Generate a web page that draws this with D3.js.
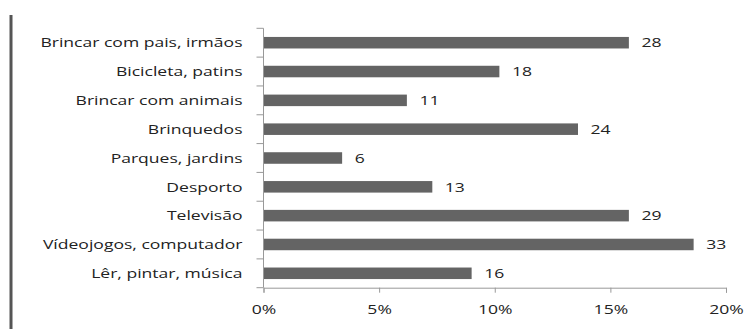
<!DOCTYPE html>
<html>
<head>
<meta charset="utf-8">
<script src="https://cdn.jsdelivr.net/npm/d3@7"></script>
<style>
  html, body { margin: 0; padding: 0; background: #fff; }
  svg { display: block; }
  text { font-family: "Open Sans", "DejaVu Sans", sans-serif; fill: #222; }
</style>
</head>
<body>
<svg id="chart" width="753" height="329"></svg>
<script>
// Activities (top to bottom)
const categories = [
  "Brincar com pais, irmãos",
  "Bicicleta, patins",
  "Brincar com animais",
  "Brinquedos",
  "Parques, jardins",
  "Desporto",
  "Televisão",
  "Vídeojogos, computador",
  "Lêr, pintar, música"
];
// Number of answers per activity (printed beside each bar)
const counts = [28, 18, 11, 24, 6, 13, 29, 33, 16];
// Share of answers, in percent (bar length)
const percents = [15.8, 10.2, 6.2, 13.6, 3.4, 7.3, 15.8, 18.6, 9.0];
// Horizontal axis ticks
const xTicks = [0, 5, 10, 15, 20];

const svg = d3.select("#chart");
const margin = { left: 263.5, right: 27, top: 28.3, bottom: 41.3 };
const W = 753, H = 329;
const FS = 13.5;      // font size
const SX = 1.3;       // wide lettering

const x = d3.scaleLinear().domain([0, 20]).range([margin.left, W - margin.right]);
const y = d3.scaleBand().domain(categories).range([margin.top, H - margin.bottom]).paddingInner(0.6).paddingOuter(0.3);

// Dark vertical rule at the far left
svg.append("line")
  .attr("x1", 11).attr("x2", 11).attr("y1", 15).attr("y2", H)
  .attr("stroke", "#555").attr("stroke-width", 3);

// Bars
svg.append("g").selectAll("rect")
  .data(categories)
  .join("rect")
  .attr("x", x(0))
  .attr("y", d => y(d))
  .attr("width", (d, i) => x(percents[i]) - x(0))
  .attr("height", y.bandwidth())
  .attr("fill", "#646464");

// Count labels
svg.append("g").selectAll("text")
  .data(categories)
  .join("text")
  .attr("transform", (d, i) => `translate(${x(percents[i]) + 12.5},${y(d) + y.bandwidth() / 2}) scale(${SX},1)`)
  .attr("dy", "0.35em")
  .attr("font-size", FS)
  .text((d, i) => counts[i]);

// Category axis: band boundaries as ticks on the left
const yAxisG = svg.append("g").attr("transform", `translate(${x(0)},0)`);
const step = y.step();
const boundaries = d3.range(categories.length + 1).map(i => margin.top + i * step);
yAxisG.append("line")
  .attr("x1", 0).attr("x2", 0)
  .attr("y1", margin.top).attr("y2", H - margin.bottom)
  .attr("stroke", "#999").attr("stroke-width", 1);
yAxisG.selectAll("line.tick")
  .data(boundaries)
  .join("line")
  .attr("class", "tick")
  .attr("x1", -7).attr("x2", 0)
  .attr("y1", d => d).attr("y2", d => d)
  .attr("stroke", "#999");
svg.append("g").selectAll("text")
  .data(categories)
  .join("text")
  .attr("transform", d => `translate(${x(0) - 21},${y(d) + y.bandwidth() / 2}) scale(${SX},1)`)
  .attr("dy", "0.35em")
  .attr("text-anchor", "end")
  .attr("font-size", FS)
  .text(d => d);

// Percentage axis along the bottom
const xAxis = d3.axisBottom(x)
  .tickValues(xTicks)
  .tickFormat(d => d + "%")
  .tickSize(5)
  .tickPadding(12);
const xg = svg.append("g")
  .attr("transform", `translate(0,${H - margin.bottom})`)
  .call(xAxis);
xg.select(".domain").attr("stroke", "#999");
xg.selectAll(".tick line").attr("stroke", "#999");
xg.selectAll(".tick text")
  .attr("font-size", FS)
  .attr("font-family", "\"Open Sans\", \"DejaVu Sans\", sans-serif")
  .attr("fill", "#222")
  .attr("transform", `scale(${SX},1)`);
</script>
</body>
</html>
